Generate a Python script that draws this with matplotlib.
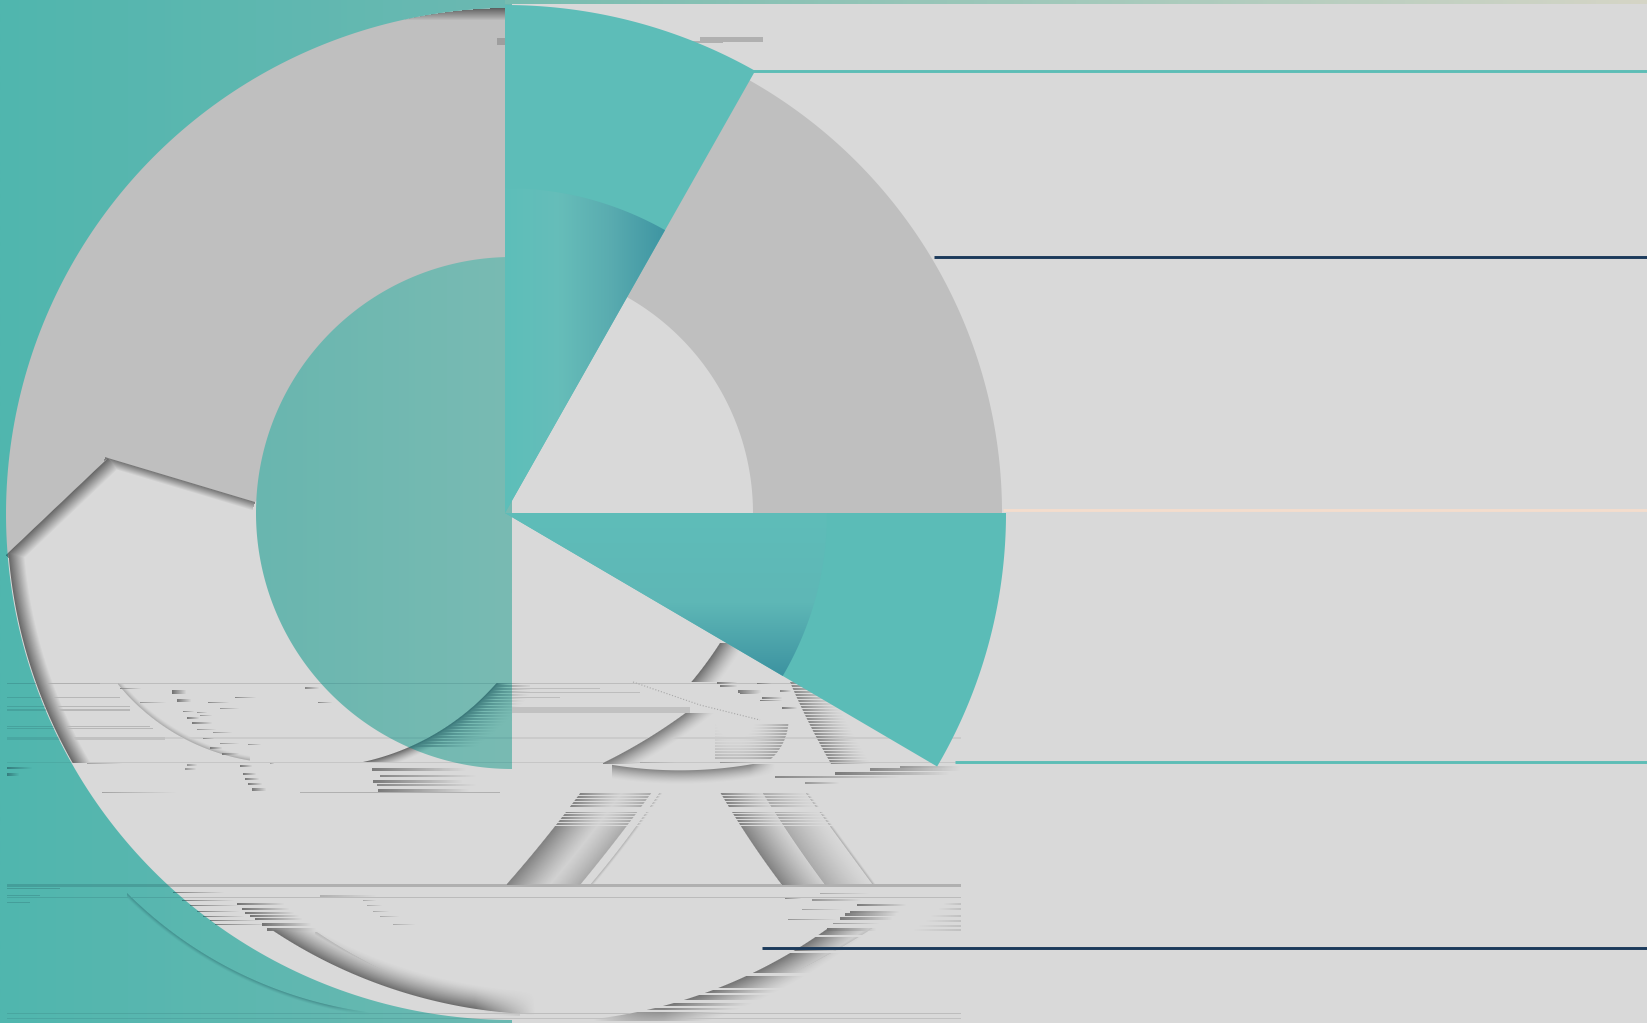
import numpy as np
import matplotlib
matplotlib.use("Agg")
import matplotlib.pyplot as plt
from matplotlib.colors import LinearSegmentedColormap
from matplotlib.path import Path

W, H = 1647, 1023

# --- sector geometry (centre x, centre y, radius) ---
ring_centre = (505, 513)
ring_outer, ring_inner = 497, 248
bowl_centre = (512, 514)
bowl_radius = 506
disc_radius = 256
top_sector_angles = (60.5, 90)
low_sector_angles = (-30.4, 0)
top_sector_radii = (508, 325)
low_sector_radii = (501, 322)
notch_x = [8, 108, 255]
notch_y = [553, 458, 502]

# --- rules running to the right edge ---
rule_y = [71, 257, 510, 762, 948]
rule_start = [752, 934, 1003, 955, 762]
rule_colour = ["#5dbdb6", "#1b3a5b", "#f4ddcd", "#5dbdb6", "#1b3a5b"]

# --- colours ---
back_colour = "#d9d9d9"
ring_colour = "#bfbfbf"
top_wedge_colour = "#5dbdb8"
low_wedge_colour = "#5bbcb7"
mark_grey = (0.32, 0.32, 0.32)
mark_teal = (0.17, 0.40, 0.42)

# --- soft curved strokes: three points on the curve, shaded side, width, strength, y span, x span ---
stroke_pts = [
    ((117, 683), (187, 740), (247, 760)),
    ((363, 762), (407, 748), (493, 687)),
    ((363, 762), (407, 748), (493, 687)),
    ((720, 643), (707, 662), (693, 680)),
    ((680, 717), (650, 737), (603, 763)),
    ((613, 765), (663, 770), (747, 765)),
    ((788, 727), (782, 745), (772, 758)),
    ((790, 682), (810, 725), (830, 762)),
    ((581, 792), (544, 840), (506, 885)),
    ((652, 792), (616, 840), (580, 885)),
    ((660, 792), (626, 840), (590, 885)),
    ((720, 792), (750, 840), (782, 885)),
    ((762, 792), (793, 840), (825, 885)),
    ((805, 792), (840, 840), (873, 885)),
    ((272, 930), (387, 987), (510, 1013)),
    ((317, 932), (400, 977), (500, 1008)),
    ((594, 1019), (713, 990), (827, 929)),
    ((757, 990), (800, 970), (873, 928)),
    ((127, 893), (233, 970), (367, 1012)),
]
stroke_side = [
    (250, 690), (500, 800), (500, 800), (800, 680), (680, 780), (680, 800), (700, 740),
    (870, 720), (620, 840), (560, 840), (700, 840), (800, 840), (850, 840),
    (900, 840), (400, 930), (300, 990), (800, 1000), (700, 950), (120, 1010),
]
stroke_width = [5, 34, 11, 22, 18, 14, 35, 35, 40, 32, 3, 42, 40, 3, 24, 8, 28, 6, 4]
stroke_strength = [.35, .7, .85, .8, .7, .62, .4, .6, .65, .35, .3, .65, .35, .35, .8, .25, .75, .2, .5]
stroke_span = [
    (683, 762), (683, 748), (683, 762), (643, 682), (713, 764), (764, 784), (723, 760),
    (682, 764), (792, 885), (792, 885), (792, 885), (792, 885), (792, 885),
    (792, 885), (930, 1020), (932, 1016), (929, 1021), (928, 1000), (893, 1016),
]
stroke_xspan = [
    (117, 250), (363, 530), (363, 512), (690, 745), (603, 715), (612, 775), (715, 790),
    (790, 870), (490, 660), (540, 660), (580, 665), (700, 835), (750, 875),
    (800, 880), (272, 535), (315, 520), (594, 870), (750, 880), (127, 370),
]
# length over which a stroke thins away at its right or left end (0 keeps it whole)
stroke_fade_right = [0, 0, 0, 0, 0, 25, 0, 0, 0, 0, 0, 0, 0, 0, 60, 0, 0, 0, 40]
stroke_fade_left = [0, 0, 0, 0, 0, 0, 0, 0, 0, 0, 0, 0, 0, 0, 0, 0, 70, 0, 0]
# 0 solid, 1 shredded into thin rows, 2 shredded only at its top, 3 few gaps
stroke_shred = [0, 1, 0, 0, 0, 0, 1, 1, 2, 2, 2, 2, 2, 2, 0, 0, 3, 3, 0]

# --- short fading dashes: left x, right x, y, height, strength ---
dash_x0 = [172, 177, 120, 305, 235, 208, 318, 140, 220, 183, 197, 187, 200, 192, 197, 213, 203, 220, 248, 210,
           222, 187, 185, 270, 102, 87, 240, 243, 245, 248, 252, 372, 380, 373, 377, 378, 7, 7,
           173, 182, 190, 197, 203, 210, 215, 237, 242, 245, 250, 255, 262, 267,
           320, 363, 367, 373, 380, 393,
           820, 812, 857, 850, 845, 840, 833, 827, 802, 788, 785,
           717, 720, 757, 738, 740, 780, 762, 760, 782,
           640, 680, 720, 805, 775, 835, 870, 900]
dash_x1 = [187, 192, 142, 320, 257, 230, 333, 167, 240, 195, 208, 200, 213, 213, 217, 233, 217, 240, 262, 223,
           240, 198, 197, 275, 177, 123, 253, 257, 260, 263, 267, 467, 477, 463, 477, 470, 33, 20,
           225, 235, 240, 240, 245, 260, 270, 285, 290, 295, 300, 303, 312, 317,
           377, 377, 383, 390, 400, 416,
           870, 862, 907, 900, 897, 893, 880, 877, 843, 837, 802,
           738, 738, 778, 762, 760, 792, 783, 783, 798,
           700, 735, 770, 840, 900, 950, 961, 961]
dash_y = [690, 699, 688, 687, 697, 702, 702, 702, 708, 711, 712, 717, 715, 722, 729, 732, 738, 743, 744, 747,
          753, 764, 768, 763, 792, 763, 765, 773, 778, 783, 788, 768, 775, 780, 784, 789, 767, 773,
          892, 900, 905, 911, 916, 920, 924, 903, 908, 912, 915, 918, 923, 928,
          895, 900, 905, 911, 916, 924,
          893, 899, 904, 911, 913, 917, 923, 928, 909, 919, 898,
          682, 685, 683, 690, 693, 690, 697, 700, 707,
          762, 770, 762, 782, 776, 772, 768, 766]
dash_h = [4, 3, 1, 2, 1, 1, 1, 1, 1, 1, 1, 2, 1, 2, 1, 1, 1, 1, 1, 2,
          2, 2, 2, 1, 1, 1, 2, 2, 2, 2, 3, 3, 2, 3, 2, 3, 2, 3,
          1, 1, 1, 1, 1, 1, 1, 2, 2, 2, 2, 2, 3, 3,
          2, 1, 1, 1, 1, 1,
          1, 2, 2, 2, 3, 3, 1, 3, 1, 1, 1,
          2, 2, 1, 3, 1, 2, 2, 1, 2,
          1, 1, 1, 2, 2, 3, 3, 2]
dash_strength = [.75, .7, .6, .6, .6, .6, .6, .5, .5, .6, .5, .7, .5, .7, .5, .5, .6, .5, .5, .7,
                 .7, .5, .5, .4, .4, .4, .7, .7, .7, .7, .7, .7, .6, .7, .6, .7, .7, .7,
                 .7, .7, .7, .7, .7, .7, .7, .75, .75, .75, .75, .75, .75, .75,
                 .3, .35, .35, .35, .35, .35,
                 .35, .5, .7, .7, .7, .7, .5, .75, .4, .5, .6,
                 .7, .7, .7, .7, .7, .6, .7, .7, .7,
                 .35, .3, .5, .5, .6, .7, .6, .5]

# --- pale edge dashes that brighten toward the right border of the band ---
edge_x0 = [943, 938, 930, 925, 918, 912]
edge_y = [903, 908, 915, 920, 925, 929]

# --- long thin rows: y, left x, right x, height, strength ---
row_y = [683, 688, 692, 697, 707, 737, 762, 792, 884, 897, 1013, 1018,
         683, 697, 706, 709, 726, 728, 737, 888, 895, 902]
row_x0 = [7, 512, 512, 512, 512, 7, 7, 300, 7, 7, 7, 7,
          7, 7, 7, 7, 7, 7, 7, 7, 7, 7]
row_x1 = [961, 600, 640, 560, 690, 961, 961, 500, 961, 961, 961, 961,
          100, 120, 130, 130, 150, 153, 165, 60, 40, 30]
row_h = [1, 1, 1, 1, 6, 2, 1, 1, 3, 1, 1, 1, 1, 1, 1, 2, 1, 1, 3, 1, 1, 1]
row_strength = [.2, .2, .2, .2, .18, .1, .14, .3, .3, .22, .2, .18,
                .3, .25, .25, .25, .25, .25, .18, .35, .3, .3]

# --- small stray marks near the top of the plot ---
stray_x0 = [497, 700, 687]
stray_x1 = [505, 763, 723]
stray_y = [38, 37, 41]
stray_h = [7, 5, 2]

# --- gradient stops ---
outer_stops = ["#50b6ae", "#6cb9b2"]
disc_stops = ["#69b6af", "#79bbb3"]
top_inner_stops = [(0, "#5dbfba"), (.34, "#66bdb9"), (.65, "#5aacb0"), (1, "#3e95a2")]
low_inner_stops = [(0, "#5fbdb9"), (.55, "#5eb7b6"), (1, "#3c92a0")]
top_band_stops = ["#77bcb0", "#a3c9bb", "#d5d5c6"]


def arc_points(centre, radius, a0, a1, n=200):
    t = np.radians(np.linspace(a0, a1, n))
    return np.column_stack([centre[0] + radius * np.cos(t), centre[1] - radius * np.sin(t)])


def polygon(points):
    pts = np.vstack([points, points[:1]])
    return Path(pts, closed=True)


def gradient_fill(ax, path, stops, horizontal, extent, zorder):
    cmap = LinearSegmentedColormap.from_list("fill", stops)
    ramp = np.linspace(0, 1, 256)
    data = ramp[None, :] if horizontal else ramp[:, None]
    im = ax.imshow(data, cmap=cmap, extent=extent, aspect="auto", zorder=zorder, interpolation="bilinear")
    if path is not None:
        im.set_clip_path(path, transform=ax.transData)
    return im


def circle_through(p1, p2, p3):
    ax_, ay = p1
    bx, by = p2
    cx, cy = p3
    d = 2 * (ax_ * (by - cy) + bx * (cy - ay) + cx * (ay - by))
    if abs(d) < 1e-6:
        d = 1e-6
    s1, s2, s3 = ax_**2 + ay**2, bx**2 + by**2, cx**2 + cy**2
    ux = (s1 * (by - cy) + s2 * (cy - ay) + s3 * (ay - by)) / d
    uy = (s1 * (cx - bx) + s2 * (ax_ - cx) + s3 * (bx - ax_)) / d
    return ux, uy, np.hypot(ax_ - ux, ay - uy)


def shredded_rows(y0, y1, mode):
    keep = np.zeros(H, bool)
    keep[y0:y1] = True
    if mode == 1:
        keep[np.arange(y0, y1)[(np.arange(y0, y1) % 3) == 0]] = False
    elif mode == 2:
        rows = np.arange(792, 826)
        keep[rows[(rows % 3) == 0]] = False
        keep[807:812] = False
    elif mode == 3:
        for a, b in [(973, 976), (988, 990), (993, 995), (1000, 1003), (1006, 1008), (1010, 1012),
                     (935, 937), (951, 953)]:
            keep[a:b] = False
    return keep


yy, xx = np.mgrid[0:H, 0:W] + 0.5
shade = np.zeros((H, W))


def add_arc(centre, radius, side, width, strength, keep, xlim=(0, W), power=1.4, fade_r=0, fade_l=0):
    d = np.hypot(xx - centre[0], yy - centre[1]) - radius
    if np.hypot(side[0] - centre[0], side[1] - centre[1]) < radius:
        d = -d
    a = strength * np.clip(1 - d / width, 0, 1) ** power * np.clip(d + 0.5, 0, 1)
    a = a * keep[:, None] * ((xx >= xlim[0]) & (xx <= xlim[1]))
    if fade_r:
        a = a * np.clip((xlim[1] - xx) / fade_r, 0, 1)
    if fade_l:
        a = a * np.clip((xx - xlim[0]) / fade_l, 0, 1)
    shade[:] = np.maximum(shade, a)


def add_segment(p0, p1, side, width, strength, power=1.0):
    p0, p1 = np.array(p0, float), np.array(p1, float)
    u = (p1 - p0) / np.linalg.norm(p1 - p0)
    n = np.array([-u[1], u[0]])
    if np.dot(np.array(side) - p0, n) < 0:
        n = -n
    d = (xx - p0[0]) * n[0] + (yy - p0[1]) * n[1]
    t = (xx - p0[0]) * u[0] + (yy - p0[1]) * u[1]
    a = strength * np.clip(1 - d / width, 0, 1) ** power * np.clip(d + 0.5, 0, 1)
    a = a * ((t > -3) & (t < np.linalg.norm(p1 - p0)))
    shade[:] = np.maximum(shade, a)


# Shadow along the cut-out rim and the notch in the ring
rim_rows = np.zeros(H, bool)
rim_rows[553:763] = True
add_arc(bowl_centre, bowl_radius - 1, bowl_centre, 16, .85, rim_rows, xlim=(0, 110), power=1.0)
add_segment((notch_x[0], notch_y[0]), (notch_x[1], notch_y[1]), (200, 600), 15, .85)
add_segment((notch_x[1], notch_y[1]), (notch_x[2], notch_y[2]), (200, 600), 9, .75)

# Dark cap at the crown of the ring: a vertical ramp that stops on a flat row
cap_rows = np.arange(8, 20)
cap = np.zeros((H, W))
cap[8:20, 397:505] = (.85 * (1 - (cap_rows - 8) / 12))[:, None]
cap[np.hypot(xx - bowl_centre[0], yy - bowl_centre[1]) > bowl_radius] = 0
shade[:] = np.maximum(shade, cap)

# Curved strokes
for i, pts in enumerate(stroke_pts):
    cx, cy, r = circle_through(*pts)
    add_arc((cx, cy), r, stroke_side[i], stroke_width[i], stroke_strength[i],
            shredded_rows(stroke_span[i][0], stroke_span[i][1], stroke_shred[i]),
            xlim=stroke_xspan[i], fade_r=stroke_fade_right[i], fade_l=stroke_fade_left[i])

# Fading dashes and long rows
for x0, x1, y, h_, s in zip(dash_x0, dash_x1, dash_y, dash_h, dash_strength):
    ramp = s * np.linspace(1, 0, x1 - x0)
    shade[y:y + h_, x0:x1] = np.maximum(shade[y:y + h_, x0:x1], ramp)
for x0, y in zip(edge_x0, edge_y):
    ramp = .18 * np.linspace(0, 1, 961 - x0)
    shade[y:y + 2, x0:961] = np.maximum(shade[y:y + 2, x0:961], ramp)
for y, x0, x1, h_, s in zip(row_y, row_x0, row_x1, row_h, row_strength):
    shade[y:y + h_, x0:x1] = np.maximum(shade[y:y + h_, x0:x1], s)
for x0, x1, y, h_ in zip(stray_x0, stray_x1, stray_y, stray_h):
    shade[y:y + h_, x0:x1] = np.maximum(shade[y:y + h_, x0:x1], .3)

# Tone of the shading follows what lies underneath
over_teal = ((np.hypot(xx - bowl_centre[0], yy - bowl_centre[1]) > bowl_radius) |
             (np.hypot(xx - bowl_centre[0], yy - ring_centre[1]) < disc_radius)) & (xx < bowl_centre[0])
overlay = np.zeros((H, W, 4))
overlay[..., :3] = mark_grey
overlay[over_teal, 0] = mark_teal[0]
overlay[over_teal, 1] = mark_teal[1]
overlay[over_teal, 2] = mark_teal[2]
overlay[..., 3] = shade

fig = plt.figure(figsize=(W / 100, H / 100), dpi=100, facecolor=back_colour)
ax = fig.add_axes([0, 0, 1, 1])
ax.set_facecolor(back_colour)
ax.axis("off")

# Grey ring with its notch
ring_pts = np.vstack([
    arc_points(ring_centre, ring_outer, 0, 90),
    arc_points(bowl_centre, bowl_radius + 2, 90, 184.4),
    np.column_stack([notch_x, notch_y]),
    arc_points(ring_centre, ring_inner, 177, 0),
])
ax.fill(ring_pts[:, 0], ring_pts[:, 1], color=ring_colour, lw=0, zorder=1)

# Teal field around the bowl
bowl_arc = arc_points(bowl_centre, bowl_radius, 270, 90)
field = polygon(np.vstack([[[bowl_centre[0], 0], [0, 0], [0, H], [bowl_centre[0], H]], bowl_arc]))
gradient_fill(ax, field, outer_stops, True, (0, bowl_centre[0], H, 0), 2)

# Half disc on the left
disc = polygon(arc_points((bowl_centre[0], ring_centre[1]), disc_radius, 90, 270))
gradient_fill(ax, disc, disc_stops, True, (255, bowl_centre[0], H, 0), 3)

ax.imshow(overlay, extent=(0, W, H, 0), aspect="auto", zorder=4, interpolation="nearest")

# Rules and the thin band along the top
for y, x0, colour in zip(rule_y, rule_start, rule_colour):
    ax.plot([x0, W], [y, y], color=colour, lw=2.1, solid_capstyle="butt", zorder=5)
gradient_fill(ax, None, top_band_stops, True, (505, W, 4, 0), 5)
ax.plot([633, 700, 760], [682, 705, 720], color="#a8a8a8", lw=.8, ls=":", zorder=5)

# Teal sectors with their darker inner gradients
a0, a1 = top_sector_angles
pts = np.vstack([[ring_centre], arc_points(ring_centre, top_sector_radii[0], a0, a1)])
ax.fill(pts[:, 0], pts[:, 1], color=top_wedge_colour, lw=0, zorder=6)
pts = polygon(np.vstack([[ring_centre], arc_points(ring_centre, top_sector_radii[1], a0, a1)]))
gradient_fill(ax, pts, top_inner_stops, True, (505, 666, H, 0), 7)

a0, a1 = low_sector_angles
pts = np.vstack([[ring_centre], arc_points(ring_centre, low_sector_radii[0], a0, a1)])
ax.fill(pts[:, 0], pts[:, 1], color=low_wedge_colour, lw=0, zorder=6)
pts = polygon(np.vstack([[ring_centre], arc_points(ring_centre, low_sector_radii[1], a0, a1)]))
gradient_fill(ax, pts, low_inner_stops, False, (505, W, 677, 513), 7)

ax.set_xlim(0, W)
ax.set_ylim(H, 0)
fig.savefig("out.png", dpi=100, facecolor=back_colour)
